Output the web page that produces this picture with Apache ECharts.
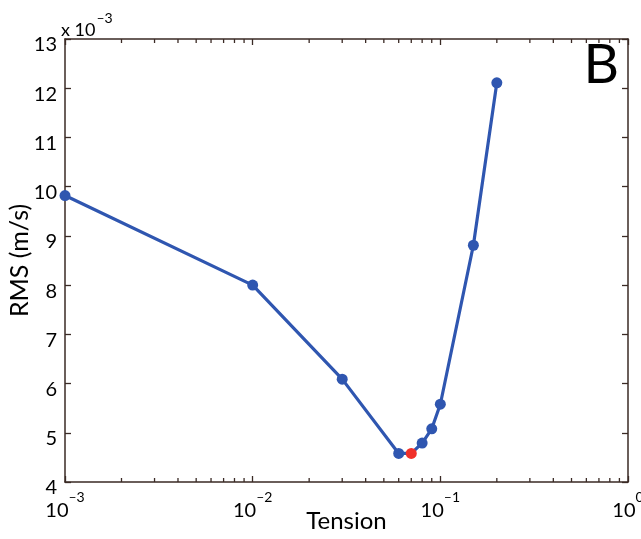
<!DOCTYPE html>
<html>
<head>
<meta charset="utf-8">
<script src="https://cdn.jsdelivr.net/npm/echarts@6/dist/echarts.min.js"></script>
<style>
  html, body { margin: 0; padding: 0; background: #fff; }
  #chart { width: 641px; height: 539px; }
</style>
</head>
<body>
<div id="chart"></div>
<script>
// tension values (log axis) and RMS in units of 1e-3 m/s
var tension = [0.001, 0.01, 0.03, 0.06, 0.07, 0.08, 0.09, 0.1, 0.15, 0.2];
var rms = [9.82, 8.0, 6.09, 4.58, 4.58, 4.79, 5.08, 5.58, 8.81, 12.11];
var bestIndex = 4; // the red point
var decades = [0.001, 0.01, 0.1];
var minorSteps = [2, 3, 4, 5, 6, 7, 8, 9];

var FONT = 'Lato';
var AXIS_COLOR = '#3a2a25';
var LINE_COLOR = '#2f56b0';
var BEST_COLOR = '#f0302a';
var MINUS = '\u2013';

var minorTicks = [];
decades.forEach(function (d) {
    minorSteps.forEach(function (m) { minorTicks.push([d * m, 4]); });
});

var lineData = tension.map(function (t, i) {
    var item = { value: [t, rms[i]] };
    if (i === bestIndex) {
        item.itemStyle = { color: BEST_COLOR };
    }
    return item;
});

function expLabel(v) {
    var e = Math.round(Math.log10(v));
    return '{b|10}{e|' + (e < 0 ? MINUS + (-e) : e) + '}';
}

var tickStyle = { color: AXIS_COLOR, width: 1.3 };
var lineStyleAxis = { color: AXIS_COLOR, width: 1.5 };

var chart = echarts.init(document.getElementById('chart'));

chart.setOption({
    animation: false,
    backgroundColor: '#fff',
    textStyle: { fontFamily: FONT },
    title: {
        text: 'B',
        right: 17,
        top: 33,
        textStyle: { fontFamily: FONT, fontSize: 55, fontWeight: 'normal', color: '#000' }
    },
    grid: {
        left: 65, right: 13, top: 39, bottom: 57,
        containLabel: false,
        outerBoundsMode: 'none'
    },
    xAxis: [{
        type: 'log',
        logBase: 10,
        min: 0.001,
        max: 1,
        position: 'bottom',
        name: 'Tension',
        nameLocation: 'middle',
        nameGap: 27,
        nameMoveOverlap: false,
        nameTextStyle: { fontFamily: FONT, fontSize: 24, color: '#000' },
        axisLine: { show: true, onZero: false, lineStyle: lineStyleAxis },
        axisTick: { show: true, inside: true, length: 6, lineStyle: tickStyle },
        splitLine: { show: false },
        axisLabel: {
            margin: 8,
            formatter: expLabel,
            rich: {
                b: { fontFamily: FONT, fontSize: 20, color: '#000', padding: [11, 0, 0, 0] },
                e: { fontFamily: FONT, fontSize: 14, color: '#000', verticalAlign: 'top' }
            }
        }
    }, {
        type: 'log',
        logBase: 10,
        min: 0.001,
        max: 1,
        position: 'top',
        axisLine: { show: true, onZero: false, lineStyle: lineStyleAxis },
        axisTick: { show: true, inside: true, length: 6, lineStyle: tickStyle },
        axisLabel: { show: false },
        splitLine: { show: false }
    }],
    yAxis: [{
        type: 'value',
        min: 4,
        max: 13,
        interval: 1,
        position: 'left',
        name: 'RMS (m/s)',
        nameLocation: 'middle',
        nameGap: 33,
        nameMoveOverlap: false,
        nameTextStyle: { fontFamily: FONT, fontSize: 25, color: '#000' },
        axisLine: { show: true, onZero: false, lineStyle: lineStyleAxis },
        axisTick: { show: true, inside: true, length: 6, lineStyle: tickStyle },
        splitLine: { show: false },
        axisLabel: {
            margin: 8,
            fontFamily: FONT,
            fontSize: 20,
            color: '#000',
            verticalAlign: 'top',
            lineHeight: 12
        }
    }, {
        type: 'value',
        min: 4,
        max: 13,
        interval: 1,
        position: 'right',
        axisLine: { show: true, onZero: false, lineStyle: lineStyleAxis },
        axisTick: { show: true, inside: true, length: 6, lineStyle: tickStyle },
        axisLabel: { show: false },
        splitLine: { show: false }
    }],
    graphic: [{
        type: 'text',
        left: 61,
        top: 11,
        style: {
            text: '{a|x 10}{e|' + MINUS + '3}',
            rich: {
                a: { fontFamily: FONT, fontSize: 18, fill: '#000', padding: [10, 0, 0, 0] },
                e: { fontFamily: FONT, fontSize: 14, fill: '#000', verticalAlign: 'top', padding: [0, 0, 0, 1] }
            }
        }
    }],
    series: [{
        type: 'custom',
        silent: true,
        xAxisIndex: 0,
        yAxisIndex: 0,
        clip: false,
        z: 5,
        data: minorTicks,
        renderItem: function (params, api) {
            var b = api.coord([api.value(0), 4]);
            var t = api.coord([api.value(0), 13]);
            var st = { stroke: AXIS_COLOR, lineWidth: 1.3, fill: null };
            return {
                type: 'group',
                children: [
                    { type: 'line', shape: { x1: b[0], y1: b[1], x2: b[0], y2: b[1] - 4 }, style: st },
                    { type: 'line', shape: { x1: t[0], y1: t[1], x2: t[0], y2: t[1] + 4 }, style: st }
                ]
            };
        }
    }, {
        type: 'line',
        xAxisIndex: 0,
        yAxisIndex: 0,
        data: lineData,
        symbol: 'circle',
        symbolSize: 11,
        showAllSymbol: true,
        lineStyle: { color: LINE_COLOR, width: 3.2 },
        itemStyle: { color: LINE_COLOR },
        z: 3
    }]
});
</script>
</body>
</html>
